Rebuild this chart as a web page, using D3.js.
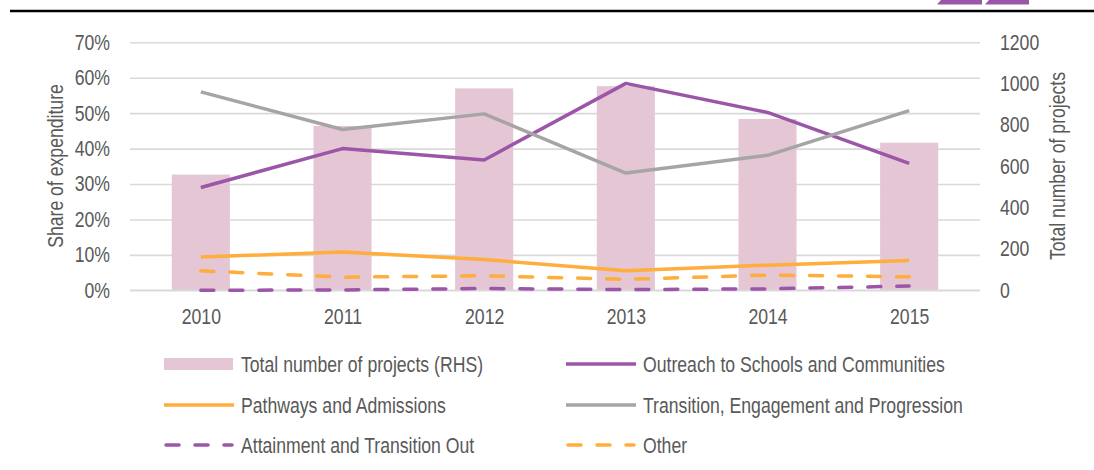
<!doctype html>
<html>
<head>
    <meta charset="UTF-8">
    <script src="https://cdn.jsdelivr.net/npm/d3@7"></script>
    <title></title>
</head>
<body style="margin:0;background:#fff">

<style>
    text {
        font-family: 'Liberation Sans', Arial, sans-serif;
        font-size: 21.5px;
        fill: #595959;
    }
</style>

<div id="chart"></div>

<script>
    // data
    var years = ["2010", "2011", "2012", "2013", "2014", "2015"];
    var projects = [560, 795, 977, 988, 829, 714];          // RHS bars
    var outreach = [29.0, 40.0, 36.8, 58.4, 50.2, 35.8];
    var pathways = [9.4, 10.8, 8.7, 5.5, 7.1, 8.4];
    var transition = [56.0, 45.4, 49.8, 33.1, 38.1, 50.7];
    var attainment = [0.0, 0.1, 0.5, 0.2, 0.4, 1.2];
    var other = [5.5, 3.7, 4.1, 3.1, 4.3, 3.8];
    var leftTicks = [0, 10, 20, 30, 40, 50, 60, 70];
    var rightTicks = [0, 200, 400, 600, 800, 1000, 1200];

    var w = 1094, h = 470;
    var plotL = 130, plotR = 980, plotT = 42.3, plotB = 290.3;

    var purple = "#9c56a8", orange = "#ffad3b", grey = "#a5a5a5", pink = "#e4c6d5";

    var svg = d3.select("#chart").append("svg")
            .attr("width", w)
            .attr("height", h);

    // header rule + logo pieces
    svg.append("line")
            .attr("x1", 10).attr("x2", w)
            .attr("y1", 11).attr("y2", 11)
            .style("stroke", "#000").style("stroke-width", 2.5);
    svg.append("polygon").attr("points", "941,0 982,0 982,4.5 937,4.5").attr("fill", purple);
    svg.append("polygon").attr("points", "989,0 1029,0 1029,4.5 985,4.5").attr("fill", purple);

    var x = d3.scaleBand().domain(years).range([plotL, plotR]).paddingInner(0.59).paddingOuter(0.295);
    var xc = d3.scalePoint().domain(years).range([plotL, plotR]).padding(0.5);
    var yL = d3.scaleLinear().domain([0, 70]).range([plotB, plotT]);
    var yR = d3.scaleLinear().domain([0, 1200]).range([plotB, plotT]);

    // left axis with gridlines
    var gL = svg.append("g")
            .attr("transform", "translate(" + plotL + ",0)")
            .call(d3.axisLeft(yL).tickValues(leftTicks)
                    .tickSize(-(plotR - plotL)).tickPadding(20)
                    .tickFormat(function(d) { return d + "%"; }));
    gL.select(".domain").remove();
    gL.selectAll("line").style("stroke", "#d9d9d9").style("stroke-width", 1.6);
    gL.selectAll("text").attr("fill", null);

    // right axis
    var gR = svg.append("g")
            .attr("transform", "translate(" + plotR + ",0)")
            .call(d3.axisRight(yR).tickValues(rightTicks).tickSize(0).tickPadding(20)
                    .tickFormat(d3.format("d")));
    gR.select(".domain").remove();
    gR.selectAll("text").attr("fill", null);

    // bars
    svg.selectAll(".bar")
            .data(projects)
            .enter()
            .append("rect")
            .attr("class", "bar")
            .attr("x", function(d, i) { return x(years[i]); })
            .attr("width", x.bandwidth())
            .attr("y", function(d) { return yR(d); })
            .attr("height", function(d) { return plotB - yR(d); })
            .attr("fill", pink);

    // redraw the zero line on top of the bars
    svg.append("line")
            .attr("x1", plotL).attr("x2", plotR)
            .attr("y1", yL(0)).attr("y2", yL(0))
            .style("stroke", "#d9d9d9").style("stroke-width", 1.6);

    // x axis labels
    var gX = svg.append("g")
            .attr("transform", "translate(0," + plotB + ")")
            .call(d3.axisBottom(xc).tickSize(0).tickPadding(18));
    gX.select(".domain").remove();
    gX.selectAll("text").attr("fill", null);

    var series = [
        {name: "Outreach to Schools and Communities", values: outreach, color: purple, dash: null},
        {name: "Pathways and Admissions", values: pathways, color: orange, dash: null},
        {name: "Transition, Engagement and Progression", values: transition, color: grey, dash: null},
        {name: "Attainment and Transition Out", values: attainment, color: purple, dash: "13,16"},
        {name: "Other", values: other, color: orange, dash: "13,16"}
    ];

    var line = d3.line()
            .x(function(d, i) { return xc(years[i]); })
            .y(function(d) { return yL(d); });

    svg.selectAll(".series")
            .data(series)
            .enter()
            .append("path")
            .attr("class", "series")
            .attr("d", function(d) { return line(d.values); })
            .attr("fill", "none")
            .style("stroke", function(d) { return d.color; })
            .style("stroke-width", 3.5)
            .style("stroke-linejoin", "round")
            .style("stroke-linecap", function(d) { return d.dash ? "round" : "butt"; })
            .style("stroke-dasharray", function(d) { return d.dash; });

    // axis titles
    svg.append("text")
            .attr("transform", "translate(55,166) rotate(-90)")
            .attr("text-anchor", "middle")
            .attr("dy", "0.35em")
            .text("Share of expenditure");
    svg.append("text")
            .attr("transform", "translate(1057,166) rotate(-90)")
            .attr("text-anchor", "middle")
            .attr("dy", "0.35em")
            .text("Total number of projects");

    // legend
    var legendItems = [{name: "Total number of projects (RHS)", color: pink, bar: true}].concat(series);
    var lg = svg.selectAll(".legend")
            .data(legendItems)
            .enter()
            .append("g")
            .attr("class", "legend")
            .attr("transform", function(d, i) {
                var lx = (i % 2 == 0) ? 164 : 566;
                var ly = [364, 405, 445][Math.floor(i / 2)];
                return "translate(" + lx + "," + ly + ")";
            });

    lg.filter(function(d) { return d.bar; })
            .append("rect")
            .attr("x", 0).attr("y", -6)
            .attr("width", 69).attr("height", 12)
            .attr("fill", pink);

    lg.filter(function(d) { return !d.bar; })
            .append("line")
            .attr("x1", function(d) { return d.dash ? 2 : 0; })
            .attr("x2", function(d) { return d.dash ? 68 : 70; })
            .attr("y1", 0).attr("y2", 0)
            .style("stroke", function(d) { return d.color; })
            .style("stroke-width", 3.5)
            .style("stroke-linecap", function(d) { return d.dash ? "round" : "butt"; })
            .style("stroke-dasharray", function(d) { return d.dash; });

    lg.append("text")
            .attr("x", 77)
            .attr("dy", "0.35em")
            .text(function(d) { return d.name; });

    // no narrow face installed: squeeze the regular one to a narrow width
    svg.selectAll("text").each(function() {
        var len = this.getComputedTextLength();
        d3.select(this).attr("textLength", len * 0.82).attr("lengthAdjust", "spacingAndGlyphs");
    });
</script>

</body>
</html>
